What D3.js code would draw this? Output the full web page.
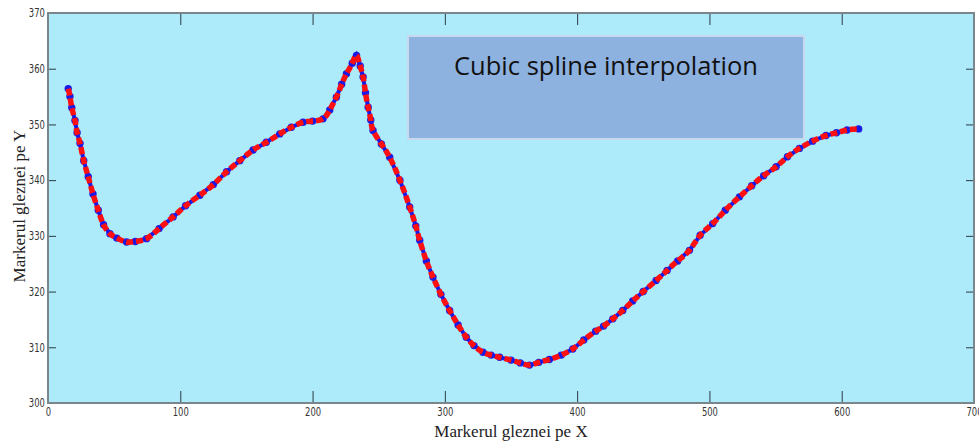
<!DOCTYPE html>
<html>
<head>
<meta charset="utf-8">
<script src="https://cdn.jsdelivr.net/npm/d3@7"></script>
<style>
  body { margin: 0; background: #fff; }
  svg { display: block; }
</style>
</head>
<body>
<div id="chart"></div>
<script>
// Marker positions (ankle marker, X / Y)
const xVals = [15.3, 16.6, 18, 20.4, 22, 24.2, 27, 30.4, 34, 38, 42, 46.8, 52, 59.4, 66, 74.5, 84, 94.6,
  104, 114.8, 125, 135, 145, 155, 165, 175.2, 184, 192.8, 200, 207.9, 213, 218, 222, 225.6, 230, 233.2,
  236, 238.2, 240, 242, 244, 245.7, 252, 258.3, 266, 273.4, 278, 281, 286, 291, 297, 303.6, 310, 316.2,
  322, 328.8, 335, 341.4, 350, 357, 364, 371, 379, 388, 396.7, 405, 414, 420, 427, 434.5, 442, 450,
  459.7, 468, 476, 484.9, 493, 502.5, 512, 522.7, 532, 541, 550.4, 559, 568, 578, 588.1, 596, 604, 612.8];
const yVals = [356.4, 355.0, 353, 350.7, 348.5, 346.6, 343.5, 340.6, 337.5, 334.6, 332, 330.4, 329.6, 328.9,
  329, 329.5, 331.3, 333.4, 335.4, 337.3, 339.2, 341.5, 343.5, 345.4, 346.8, 348.3, 349.5, 350.4, 350.6,
  351.0, 352.6, 354.9, 357.2, 359.1, 361, 362.4, 360.5, 358.5, 355.7, 353.1, 350.8, 348.9, 346.5, 344.1,
  340, 335.2, 331.8, 329.2, 325.5, 322.6, 319.5, 316.6, 314, 311.8, 310.3, 309.1, 308.6, 308.2, 307.7,
  307.2, 306.8, 307.3, 307.8, 308.6, 309.7, 311.3, 312.9, 313.8, 315.1, 316.6, 318.3, 320, 322.0, 323.8,
  325.5, 327.4, 330.1, 332.2, 334.6, 337.0, 339, 340.8, 342.4, 344.2, 345.7, 347, 348.0, 348.5, 349, 349.2];

const xTicks = [0, 100, 200, 300, 400, 500, 600, 700];
const yTicks = [300, 310, 320, 330, 340, 350, 360, 370];

const xLabel = 'Markerul gleznei pe X';
const yLabel = 'Markerul gleznei pe Y';
const boxText = 'Cubic spline interpolation';

const W = 979, H = 443;
const margin = { top: 13, right: 5, bottom: 40, left: 48 };
const innerW = W - margin.left - margin.right;
const innerH = H - margin.top - margin.bottom;

const points = xVals.map((x, i) => ({ x, y: yVals[i] }));

const x = d3.scaleLinear().domain([0, 700]).range([0, innerW]);
const y = d3.scaleLinear().domain([300, 370]).range([innerH, 0]);

const svg = d3.select('#chart')
  .append('svg')
  .attr('width', W)
  .attr('height', H);

const g = svg.append('g')
  .attr('transform', `translate(${margin.left},${margin.top})`);

// plot background
g.append('rect')
  .attr('width', innerW)
  .attr('height', innerH)
  .attr('fill', '#aeebfa');

// axes: ticks drawn inward on all four sides, MATLAB style
const tickFont = "'Liberation Sans Narrow', 'DejaVu Sans Condensed', sans-serif";

function styleAxis(sel) {
  sel.selectAll('.domain').remove();
  sel.selectAll('.tick line').attr('stroke', '#2b3a44').attr('stroke-width', 1);
  sel.selectAll('.tick text')
    .style('font-family', tickFont)
    .style('font-size', '12px')
    .attr('fill', '#333');
}

// tick labels squeezed a little to look like the narrow MATLAB digits
g.append('g')
  .attr('transform', `translate(0,${innerH})`)
  .call(d3.axisBottom(x).tickValues(xTicks).tickSize(-12).tickPadding(4))
  .call(styleAxis)
  .call(sel => sel.selectAll('.tick text').attr('transform', 'scale(0.78,1)'));

g.append('g')
  .call(d3.axisTop(x).tickValues(xTicks).tickSize(-12).tickFormat(''))
  .call(styleAxis);

g.append('g')
  .call(d3.axisLeft(y).tickValues(yTicks).tickSize(-8).tickPadding(4))
  .call(styleAxis)
  .call(sel => sel.selectAll('.tick text').attr('transform', 'scale(0.78,1)'));

g.append('g')
  .attr('transform', `translate(${innerW},0)`)
  .call(d3.axisRight(y).tickValues(yTicks).tickSize(-8).tickFormat(''))
  .call(styleAxis);

// frame
g.append('rect')
  .attr('width', innerW)
  .attr('height', innerH)
  .attr('fill', 'none')
  .attr('stroke', '#7a858c')
  .attr('stroke-width', 2);

// measured markers: blue line with round markers
const lineRaw = d3.line().x(d => x(d.x)).y(d => y(d.y));

g.append('path')
  .datum(points)
  .attr('d', lineRaw)
  .attr('fill', 'none')
  .attr('stroke', '#1a1ae6')
  .attr('stroke-width', 4);

g.selectAll('circle.marker')
  .data(points)
  .enter()
  .append('circle')
  .attr('class', 'marker')
  .attr('cx', d => x(d.x))
  .attr('cy', d => y(d.y))
  .attr('r', 3.7)
  .attr('fill', '#1a1ae6');

// cubic spline through the same markers: red dashed
const lineSpline = d3.line().x(d => x(d.x)).y(d => y(d.y)).curve(d3.curveNatural);

g.append('path')
  .datum(points)
  .attr('d', lineSpline)
  .attr('fill', 'none')
  .attr('stroke', '#ff1010')
  .attr('stroke-width', 5.5)
  .attr('stroke-dasharray', '7,3');

// text box
svg.append('rect')
  .attr('x', 408)
  .attr('y', 36)
  .attr('width', 396)
  .attr('height', 103)
  .attr('fill', '#8eb2e0')
  .attr('stroke', '#c8d8ef')
  .attr('stroke-width', 2);

svg.append('text')
  .attr('x', 606)
  .attr('y', 75)
  .attr('text-anchor', 'middle')
  .attr('textLength', 304)
  .attr('lengthAdjust', 'spacingAndGlyphs')
  .style('font-family', "'Open Sans', 'Noto Sans', sans-serif")
  .style('font-size', '26px')
  .attr('fill', '#111')
  .text(boxText);

// axis titles
svg.append('text')
  .attr('x', 511)
  .attr('y', 437)
  .attr('text-anchor', 'middle')
  .style('font-family', "'Liberation Serif', 'DejaVu Serif', serif")
  .style('font-size', '17px')
  .attr('fill', '#222')
  .text(xLabel);

svg.append('text')
  .attr('transform', 'translate(25,206) rotate(-90)')
  .attr('text-anchor', 'middle')
  .style('font-family', "'Liberation Serif', 'DejaVu Serif', serif")
  .style('font-size', '17px')
  .attr('fill', '#222')
  .text(yLabel);
</script>
</body>
</html>
